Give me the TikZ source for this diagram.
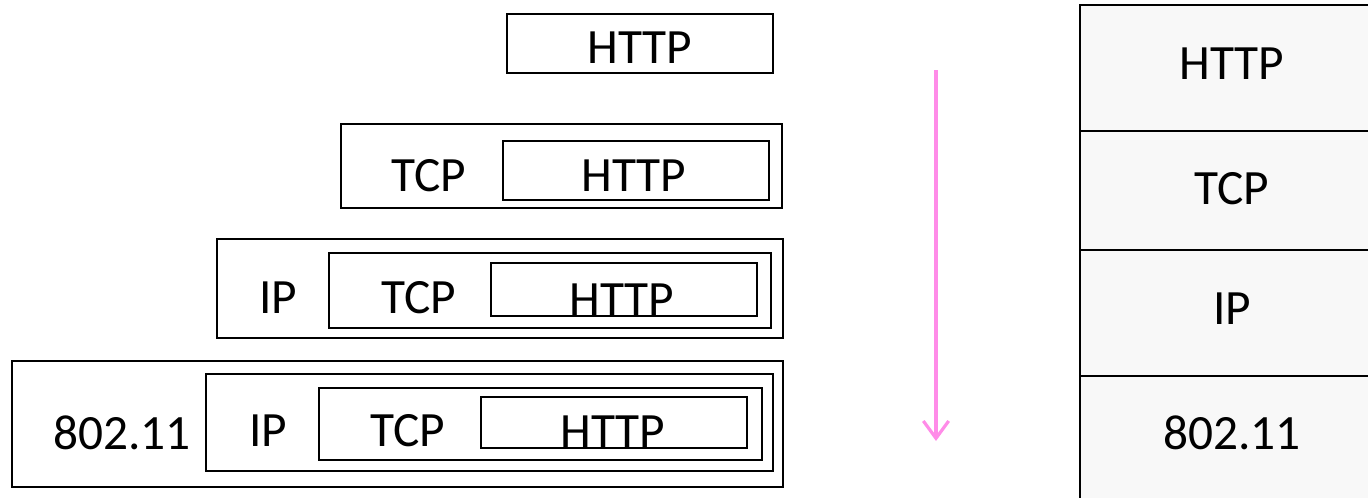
\documentclass[tikz,border=0pt]{standalone}
\usepackage{fontspec}
\setmainfont{Carlito}
\usetikzlibrary{fit,arrows.meta}
\definecolor{downpink}{HTML}{FF8CE8}
\definecolor{stackgray}{HTML}{F8F8F8}
\tikzset{
  pkt/.style={draw, line width=1.5pt, inner sep=0pt},
  layer/.style={draw, line width=1.5pt, fill=stackgray, inner sep=0pt},
  lbl/.style={inner sep=0pt, font=\fontsize{37}{44}\selectfont}
}
\begin{document}
\begin{tikzpicture}[x=0.75pt, y=-0.75pt]
\useasboundingbox (0,0) rectangle (1368,497);
% HTTP alone
\node[pkt, fit={(507,14) (773,73)}] (aHttp) {};
\node[lbl] (aHttpT) at (640,48) {HTTP};
% TCP segment
\node[pkt, fit={(341,124) (782,208)}] (tTcp) {};
\node[pkt, fit={(503,141) (769,200)}] (tHttp) {};
\node[lbl] (tTcpT) at (429,176) {TCP};
\node[lbl] (tHttpT) at (634,176) {HTTP};
% IP datagram
\node[pkt, fit={(217,239) (783,338)}] (nIp) {};
\node[pkt, fit={(329,253) (771,328)}] (nTcp) {};
\node[pkt, fit={(491,263) (757,316)}] (nHttp) {};
\node[lbl] (nIpT) at (278,298) {IP};
\node[lbl] (nTcpT) at (419,298) {TCP};
\node[lbl] (nHttpT) at (622,300) {HTTP};
% 802.11 frame
\node[pkt, fit={(12,361) (783,487)}] (lWifi) {};
\node[pkt, fit={(206,374) (773,471)}] (lIp) {};
\node[pkt, fit={(319,388) (762,460)}] (lTcp) {};
\node[pkt, fit={(481,397) (747,448)}] (lHttp) {};
\node[lbl] (lWifiT) at (122,433) {802.11};
\node[lbl] (lIpT) at (268,431) {IP};
\node[lbl] (lTcpT) at (408,431) {TCP};
\node[lbl] (lHttpT) at (613,432) {HTTP};
% arrow down the stack
\coordinate (downTop) at (936,70);
\coordinate (downEnd) at (936,441);
\draw[downpink, line width=2.4pt, -{Straight Barb[length=13pt, width=19pt, line width=2.4pt]}] (downTop) -- (downEnd);
% protocol stack
\node[layer, fit={(1080,5) (1374,131)}] (sHttp) {};
\node[layer, fit={(1080,131) (1374,250)}] (sTcp) {};
\node[layer, fit={(1080,250) (1374,376)}] (sIp) {};
\node[layer, fit={(1080,376) (1374,502)}] (sWifi) {};
\node[lbl] (sHttpT) at (1232,64) {HTTP};
\node[lbl] (sTcpT) at (1232,189) {TCP};
\node[lbl] (sIpT) at (1232,309) {IP};
\node[lbl] (sWifiT) at (1232,433) {802.11};
\end{tikzpicture}
\end{document}
